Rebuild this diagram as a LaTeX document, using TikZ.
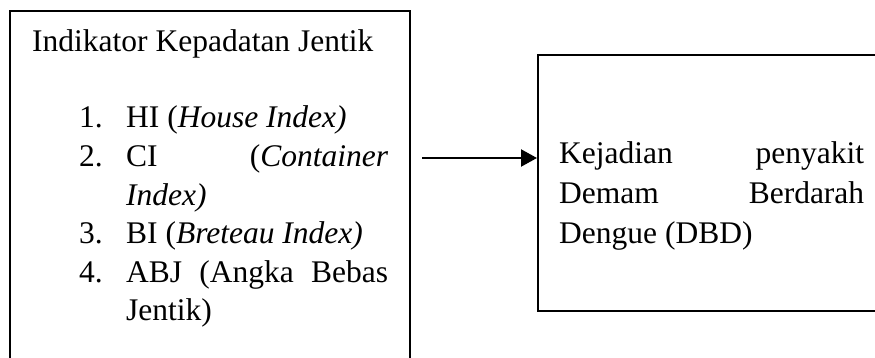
\documentclass[tikz,border=0pt]{standalone}
\usepackage{fontspec}
\setmainfont{Liberation Serif}
\usetikzlibrary{arrows.meta,positioning}

\begin{document}
\begin{tikzpicture}[
  x=1pt, y=1pt,
  panel/.style={draw,line width=2pt,inner sep=0pt,anchor=north west},
  txt/.style={inner sep=0pt,anchor=base west,font=\fontsize{31.5}{38.5}\selectfont},
  arr/.style={-{Triangle[length=16pt,width=17pt]},line width=2.2pt}
]
\useasboundingbox (0,0) rectangle (875,-358);
\clip (0,0) rectangle (875,-358);
% kotak kiri dan kanan
\node[panel,minimum width=400pt,minimum height=380pt] (indikator) at (9,-10) {};
\node[panel,minimum width=360pt,minimum height=256pt] (kejadian) at (537,-54) {};
% isi kotak kiri
\node[txt] (judul) at (32,-52) {Indikator Kepadatan Jentik};
\node[txt] (hi) at (79,-128) {\makebox[47pt][l]{1.}HI (\textit{House Index)}};
\node[txt] (ci) at (79,-166.5) {\makebox[47pt][l]{2.}\makebox[262pt][s]{CI (\textit{Container}}};
\node[txt] (ciindex) at (126,-205) {\textit{Index)}};
\node[txt] (bi) at (79,-243.5) {\makebox[47pt][l]{3.}BI (\textit{Breteau Index)}};
\node[txt] (abj) at (79,-282) {\makebox[47pt][l]{4.}\makebox[262pt][s]{ABJ (Angka Bebas}};
\node[txt] (abjjentik) at (126,-320.5) {Jentik)};
% isi kotak kanan
\node[txt] (k1) at (559,-164) {\makebox[305pt][s]{Kejadian penyakit}};
\node[txt] (k2) at (559,-203.5) {\makebox[305pt][s]{Demam Berdarah}};
\node[txt] (k3) at (559,-243) {Dengue (DBD)};
% panah
\coordinate (ekor) at (422,-158);
\draw[arr] (ekor)--(ekor -| kejadian.west);
\end{tikzpicture}
\end{document}
